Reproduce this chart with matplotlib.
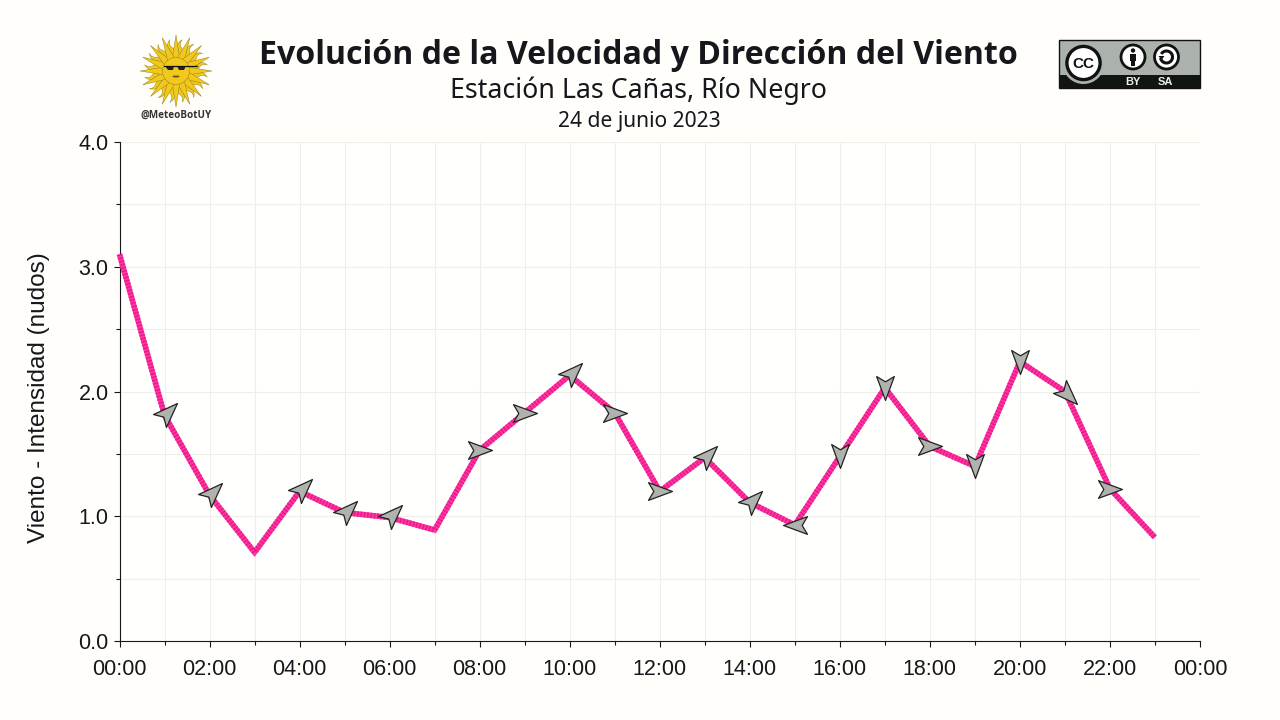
import numpy as np
import matplotlib
matplotlib.use('Agg')
import matplotlib.pyplot as plt
from matplotlib.patches import Circle, Rectangle, Polygon, Arc, Ellipse
from matplotlib.path import Path

# valores
horas = list(range(24))
viento = [3.10, 1.81, 1.17, 0.71, 1.20, 1.03, 0.99, 0.89, 1.53, 1.83, 2.13, 1.83,
          1.20, 1.47, 1.11, 0.93, 1.48, 2.03, 1.56, 1.40, 2.24, 2.00, 1.22, 0.83]
# hacia donde apunta la flecha, en grados (None = sin flecha)
direccion = [None, 45, 45, None, 45, 45, 45, None, 0, 0, 45, 0,
             0, 45, 45, 180, -90, -90, 0, -90, -90, -45, 0, None]
ticks_x = list(range(0, 25, 2))
etiquetas_x = ['00:00', '02:00', '04:00', '06:00', '08:00', '10:00', '12:00',
               '14:00', '16:00', '18:00', '20:00', '22:00', '00:00']
ticks_y = [0, 1, 2, 3, 4]
etiquetas_y = ['0.0', '1.0', '2.0', '3.0', '4.0']

TINTA = '#16161d'
FONDO = '#fffefa'
AMARILLO = '#f0c81e'
BORDE_SOL = '#8a7614'


def flecha(angulo):
    # flecha apuntando al este, rotada y centrada en su caja
    v = np.array([[1, 0], [0, 0.37], [0.22, 0], [0, -0.37], [1, 0]], dtype=float)
    a = np.radians(angulo)
    rot = np.array([[np.cos(a), -np.sin(a)], [np.sin(a), np.cos(a)]])
    v = v @ rot.T
    v = v - (v.max(axis=0) + v.min(axis=0)) / 2
    return Path(v, closed=True)


def dibujar_sol(ax, cx, cy):
    n = 16
    paso = 2 * np.pi / n
    # rayos ondulados
    s = np.linspace(0, 1, 14)
    for i in range(n):
        t = paso * (i + 0.5) - np.pi / 2
        r = 12 + 20 * s
        lateral = 2.2 * np.sin(2 * np.pi * s)
        ancho = 4.6 * (1 - s)
        lados = []
        for signo, orden in [(1, 1), (-1, -1)]:
            d = lateral + signo * ancho
            x = cx + r * np.cos(t) - d * np.sin(t)
            y = cy + r * np.sin(t) + d * np.cos(t)
            lados += list(zip(x, y))[::orden]
        ax.add_patch(Polygon(lados, closed=True, fc=AMARILLO, ec=BORDE_SOL, lw=0.3))
    # rayos rectos
    for i in range(n):
        t = paso * i - np.pi / 2
        tip = (cx + 36 * np.cos(t), cy + 36 * np.sin(t))
        a = (cx + 12 * np.cos(t - 0.34), cy + 12 * np.sin(t - 0.34))
        b = (cx + 12 * np.cos(t + 0.34), cy + 12 * np.sin(t + 0.34))
        ax.add_patch(Polygon([a, tip, b], closed=True, fc=AMARILLO, ec=BORDE_SOL, lw=0.3))
    ax.add_patch(Circle((cx, cy), 13.5, fc=AMARILLO, ec=BORDE_SOL, lw=0.3))
    # lentes
    ax.plot([cx - 12, cx + 21], [cy - 5, cy - 5], color='#111111', lw=0.9)
    ax.add_patch(Polygon([(cx - 11, cy - 5), (cx - 2, cy - 5), (cx - 3, cy - 1), (cx - 8, cy - 1)],
                         fc='#222222', ec='none'))
    ax.add_patch(Polygon([(cx + 1, cy - 5), (cx + 10, cy - 5), (cx + 8, cy - 1), (cx + 3, cy - 1)],
                         fc='#222222', ec='none'))
    ax.add_patch(Ellipse((cx, cy + 5.5), 7, 2, fc='#6a5408', ec='none'))
    ax.text(cx, cy + 44, '@MeteoBotUY', ha='center', va='center', fontsize=7.1,
            family='Open Sans', weight='bold', color='#333333')


def dibujar_cc(ax):
    ax.add_patch(Rectangle((1058.5, 40), 141, 48, fc='#aab2ab', ec='#111111', lw=1))
    ax.add_patch(Rectangle((1058.5, 75), 141, 13, fc='#111411', ec='none'))
    ax.add_patch(Circle((1083.5, 63), 21, fc='#aab2ab', ec='none'))
    ax.add_patch(Circle((1083.5, 63), 16.6, fc='white', ec='#111111', lw=2.4))
    ax.text(1083.5, 63.5, 'CC', ha='center', va='center', fontsize=11,
            family='Liberation Sans', weight='bold', color='#111111')
    for x in [1133, 1166.5]:
        ax.add_patch(Circle((x, 57), 12, fc='white', ec='#111111', lw=2))
    # persona
    ax.add_patch(Circle((1133, 50.5), 2.2, fc='#111111', ec='none'))
    ax.add_patch(Rectangle((1130, 54), 6, 7, fc='#111111', ec='none'))
    ax.add_patch(Rectangle((1131.2, 60), 3.6, 6, fc='#111111', ec='none'))
    # share alike
    ax.add_patch(Arc((1166.5, 57), 12, 12, theta1=-150, theta2=170, color='#111111', lw=2.2))
    ax.add_patch(Polygon([(1158.5, 56), (1164.5, 56), (1161.5, 60)], fc='#111111', ec='none'))
    ax.text(1132.5, 82, 'BY', ha='center', va='center', fontsize=8,
            family='Liberation Sans', weight='bold', color='#eeeeee')
    ax.text(1165.5, 82, 'SA', ha='center', va='center', fontsize=8,
            family='Liberation Sans', weight='bold', color='#eeeeee')


plt.rcParams['font.family'] = ['Liberation Sans', 'DejaVu Sans']

fig = plt.figure(figsize=(12.8, 7.2), dpi=100, facecolor=FONDO)
ax = fig.add_axes([119.5 / 1280, 1 - 641 / 720, 1080.5 / 1280, 499 / 720], facecolor='#fffffe')

ax.set_xlim(0, 24)
ax.set_ylim(0, 4)
ax.set_xticks(ticks_x)
ax.set_xticklabels(etiquetas_x)
ax.set_xticks(horas[1::2], minor=True)
ax.set_yticks(ticks_y)
ax.set_yticklabels(etiquetas_y)
ax.set_yticks([0.5, 1.5, 2.5, 3.5], minor=True)
ax.grid(which='both', color='#efefe9', lw=0.8, zorder=0)
ax.set_axisbelow(True)
ax.tick_params(which='major', length=4.5, width=0.8, labelsize=15.5, colors=TINTA, pad=8.5)
ax.tick_params(axis='y', which='major', pad=3.4)
ax.tick_params(which='minor', length=3, width=0.8, color=TINTA)
ax.spines['top'].set_visible(False)
ax.spines['right'].set_visible(False)
ax.spines['left'].set_color(TINTA)
ax.spines['bottom'].set_color(TINTA)
ax.set_ylabel('Viento - Intensidad (nudos)', fontsize=17.5, color=TINTA, y=0.488, labelpad=20.5)

ax.plot(horas, viento, color='#fb3a9f', lw=4, solid_joinstyle='miter',
        solid_capstyle='butt', clip_on=False, zorder=3)
ax.plot(horas, viento, color='#f01890', lw=4, dashes=(0.3, 0.3),
        dash_capstyle='butt', clip_on=False, zorder=3)

for h, v, d in zip(horas, viento, direccion):
    if d is None:
        continue
    ax.plot([h], [v], marker=flecha(d), ms=17.2, mfc='#b0b2ad', mec='#222222', mew=0.9,
            ls='none', clip_on=False, zorder=4)

# capa en pixeles para titulos y logos
capa = fig.add_axes([0, 0, 1, 1], facecolor='none')
capa.set_xlim(0, 1280)
capa.set_ylim(720, 0)
capa.axis('off')

capa.text(638.5, 55, 'Evolución de la Velocidad y Dirección del Viento', ha='center', va='center',
          fontsize=23.1, family='Open Sans', weight='bold', color=TINTA)
capa.text(638, 91, 'Estación Las Cañas, Río Negro', ha='center', va='center',
          fontsize=19.25, family='Noto Sans', color=TINTA)
capa.text(639, 122, '24 de junio 2023', ha='center', va='center',
          fontsize=15.15, family='Noto Sans', color=TINTA)

dibujar_sol(capa, 176, 71)
dibujar_cc(capa)

fig.savefig('out.png', dpi=100, facecolor=FONDO)
